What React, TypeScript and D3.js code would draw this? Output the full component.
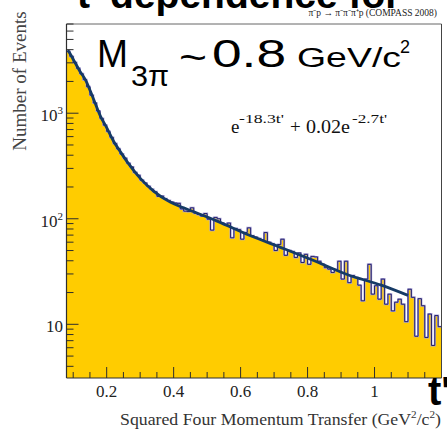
import React from 'react'
import * as d3 from 'd3'

// t' histogram, one value per 0.01 GeV^2/c^2 bin starting at 0.08
const binStart = 0.08
const binWidth = 0.01
const counts = [
  3850, 3450, 3030, 2660, 2360, 2080, 1780, 1480, 1250, 1050,
  890, 770, 670, 590, 515, 460, 410, 375, 335, 310,
  275, 258, 232, 218, 203, 190, 180, 163, 164, 155,
  149, 144, 141, 140, 124, 118, 117, 127, 113, 110,
  106, 112, 99, 78, 103, 100, 91, 88, 91, 66,
  81, 79, 64, 74, 82, 69, 67, 65, 63, 74,
  60, 58, 50, 57, 64, 45, 50, 49, 43, 47.5,
  38.5, 46, 37, 44, 43.5, 39.6, 37, 34.4, 33.3, 31,
  33, 39.6, 26.8, 39.6, 24.8, 29, 27.8, 23.5, 16.7, 26.8,
  37, 19.3, 23.2, 17.3, 26.8, 15.5, 19.3, 13.4, 16.2, 17.3,
  15.5, 10.6, 21.5, 18, 7.7, 17.5, 15, 7.5, 12.5, 6.3,
  12.1, 9.5,
]

// fitted curve e^{-18.3t'} + 0.02e^{-2.7t'}
const fitT = [0.084, 0.09, 0.101, 0.12, 0.137, 0.16, 0.182, 0.2, 0.221, 0.24, 0.263, 0.301, 0.34, 0.391, 0.43, 0.53, 0.63, 0.73, 0.82, 0.92, 1.02, 1.1]
const fitV = [3950, 3700, 3200, 2500, 2060, 1380, 930, 730, 540, 436, 340, 240, 183, 143, 127, 95, 69, 52, 40, 29.5, 23.5, 18.8]

const xMajor = [0.2, 0.4, 0.6, 0.8, 1]
const xMajorLabels = ['0.2', '0.4', '0.6', '0.8', '1']
const yMajor = [10, 100, 1000]
const yMajorExp = ['', '2', '3']

const serif = '"Liberation Serif", "Times New Roman", serif'
const sans = '"Liberation Sans", Arial, sans-serif'

export default function App() {
  const W = 447
  const H = 437
  const x = d3.scaleLinear().domain([0.08, 1.2]).range([66.5, 441.5])
  const y = d3.scaleLog().domain([3.1, 7000]).range([378, 24])
  const [x0, x1] = x.range()
  const [yb, yt] = y.range()

  // step histogram
  const steps: [number, number][] = counts.map((c, i) => [binStart + i * binWidth, c])
  steps.push([binStart + counts.length * binWidth, counts[counts.length - 1]])
  const stepLine = d3.line<[number, number]>()
    .x(d => x(d[0]))
    .y(d => y(d[1]))
    .curve(d3.curveStepAfter)
  const stepArea = d3.area<[number, number]>()
    .x(d => x(d[0]))
    .y0(yb)
    .y1(d => y(d[1]))
    .curve(d3.curveStepAfter)

  const fitLine = d3.line<number>()
    .x((_, i) => x(fitT[i]))
    .y(d => y(d))
    .curve(d3.curveMonotoneX)

  const xMinor = d3.range(0.1, 1.19, 0.05).filter(t => !xMajor.some(m => Math.abs(m - t) < 1e-6))
  const yMinor: number[] = []
  ;[1, 10, 100, 1000].forEach(dec => {
    for (let k = 2; k <= 9; k++) {
      const v = dec * k
      if (v >= y.domain()[0] && v <= y.domain()[1]) yMinor.push(v)
    }
  })

  const tickColor = '#2e2e2e'

  return (
    <svg width={W} height={H} style={{ position: 'absolute', left: 0, top: 0, background: '#fff' }}>
      <defs>
        <clipPath id="plot">
          <rect x={x0} y={yt} width={x1 - x0} height={yb - yt} />
        </clipPath>
      </defs>

      {/* slide title, cut off at the top */}
      <text x={77} y={8} fontFamily={sans} fontWeight="bold" fontSize={39} fill="#000">
        t' dependence for
      </text>
      <text x={437} y={16} textAnchor="end" fontFamily={serif} fontSize={9.5} fill="#222">
        π⁻p → π⁻π⁻π⁺p (COMPASS 2008)
      </text>

      {/* histogram */}
      <g clipPath="url(#plot)">
        <path d={stepArea(steps) || ''} fill="#ffcc00" />
        <path d={stepLine(steps) || ''} fill="none" stroke="#aaa3d8" strokeWidth={2} />
        <path d={stepLine(steps) || ''} fill="none" stroke="#25226a" strokeWidth={1} />
        <path d={fitLine(fitV) || ''} fill="none" stroke="#163b66" strokeWidth={2.8} />
      </g>

      {/* frame */}
      <line x1={x0} x2={x1} y1={yt} y2={yt} stroke="#666" strokeWidth={1} />
      <line x1={x1} x2={x1} y1={yt} y2={yb} stroke="#444" strokeWidth={1} />

      {/* y axis */}
      <line x1={x0} x2={x0} y1={yt} y2={yb} stroke={tickColor} strokeWidth={1.2} />
      {yMinor.map(v => (
        <line key={'ym' + v} x1={x0} x2={x0 + 7} y1={y(v)} y2={y(v)} stroke={tickColor} strokeWidth={1} />
      ))}
      {yMajor.map((v, i) => (
        <g key={'yM' + v}>
          <line x1={x0} x2={x0 + 12} y1={y(v)} y2={y(v)} stroke={tickColor} strokeWidth={1} />
          <text x={63} y={y(v) + 8} textAnchor="end" fontFamily={serif} fontSize={17} fill="#222">
            10
            {yMajorExp[i] && <tspan dy={-7} fontSize={11}>{yMajorExp[i]}</tspan>}
          </text>
        </g>
      ))}

      {/* x axis */}
      <line x1={x0} x2={x1} y1={yb} y2={yb} stroke={tickColor} strokeWidth={1.2} />
      {xMinor.map(t => (
        <line key={'xm' + t} x1={x(t)} x2={x(t)} y1={yb} y2={yb - 6} stroke={tickColor} strokeWidth={1} />
      ))}
      {xMajor.map((t, i) => (
        <g key={'xM' + t}>
          <line x1={x(t)} x2={x(t)} y1={yb} y2={yb - 11} stroke={tickColor} strokeWidth={1} />
          <text x={x(t)} y={397} textAnchor="middle" fontFamily={serif} fontSize={17} fill="#222">
            {xMajorLabels[i]}
          </text>
        </g>
      ))}

      {/* axis titles */}
      <text transform="translate(26,81) rotate(-90)" textAnchor="middle" fontFamily={serif} fontSize={19} fill="#444">
        Number of Events
      </text>
      <text x={120} y={425} fontFamily={serif} fontSize={17.5} fill="#333" textLength={321} lengthAdjust="spacingAndGlyphs">
        Squared Four Momentum Transfer (GeV<tspan dy={-7} fontSize={11}>2</tspan>
        <tspan dy={7}>/c</tspan>
        <tspan dy={-7} fontSize={11}>2</tspan>
        <tspan dy={7}>)</tspan>
      </text>

      {/* mass label */}
      <text x={97} y={67} fontFamily={sans} fontSize={39} fill="#000" textLength={31} lengthAdjust="spacingAndGlyphs">M</text>
      <text x={131} y={86} fontFamily={sans} fontSize={30} fill="#000" textLength={38} lengthAdjust="spacingAndGlyphs">3π</text>
      <text x={179} y={71} fontFamily={sans} fontSize={39} fill="#000" textLength={28} lengthAdjust="spacingAndGlyphs">~</text>
      <text x={212} y={67} fontFamily={sans} fontSize={39} fill="#000" textLength={74} lengthAdjust="spacingAndGlyphs">0.8</text>
      <text x={297} y={67} fontFamily={sans} fontSize={27} fill="#000" textLength={104} lengthAdjust="spacingAndGlyphs">GeV/c</text>
      <text x={400} y={53} fontFamily={sans} fontSize={18} fill="#000">2</text>

      {/* fit formula */}
      <text x={231} y={133} fontFamily={serif} fontSize={19} fill="#111">e</text>
      <text x={239} y={123} fontFamily={serif} fontSize={13} fill="#111" textLength={45} lengthAdjust="spacingAndGlyphs">-18.3t'</text>
      <text x={290} y={133} fontFamily={serif} fontSize={19} fill="#111">+</text>
      <text x={306} y={133} fontFamily={serif} fontSize={19} fill="#111" textLength={44} lengthAdjust="spacingAndGlyphs">0.02e</text>
      <text x={352} y={123} fontFamily={serif} fontSize={13} fill="#111" textLength={35} lengthAdjust="spacingAndGlyphs">-2.7t'</text>

      {/* big t' at bottom right */}
      <text x={428} y={405} fontFamily={sans} fontWeight="bold" fontSize={40} fill="#000">t'</text>
    </svg>
  )
}
